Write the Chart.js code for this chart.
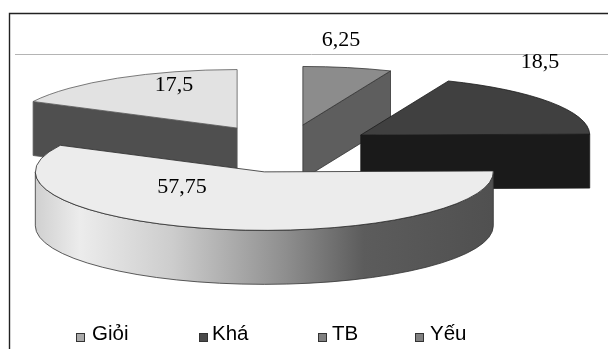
<!DOCTYPE html>
<html>
<head>
<meta charset="utf-8">
<style>html,body{margin:0;padding:0;background:#fff;overflow:hidden}canvas{display:block}</style>
<script src="https://cdn.jsdelivr.net/npm/chart.js@4"></script>
</head>
<body>
<canvas id="pie" width="608" height="349"></canvas>
<script>
// Student grade shares
const categories = ['Giỏi', 'Khá', 'TB', 'Yếu'];
const values = [6.25, 18.5, 57.75, 17.5];

// Slice styling, in category order
const topColors = ['#8c8c8c', '#404040', '#ececec', '#e2e2e2'];
const wallColors = ['#5e5e5e', '#1a1a1a', '#5e5e5e', '#4f4f4f'];
const edgeColors = ['#333333', '#1c1c1c', '#2a2a2a', '#5a5a5a'];
const swatchColors = ['#aaaaaa', '#4a4a4a', '#808080', '#808080'];

// Back-to-front painting order of the slices
const paintOrder = [3, 0, 1, 2];

// Projection of the tilted pie
const tilt = { cx: 285, cy: 148.5, rx: 229, ry: 58.5, depth: 54, explodeX: 0.4, explodeY: 0.41 };

// Value label anchors (centre x, baseline y) and legend slots
const labelAnchors = [[341, 46], [540, 68], [182, 193], [174, 91]];
const legendSlots = [[76, 92], [199, 212], [318, 332], [415, 430]];

const tiltedPie = {
  id: 'tiltedPie',
  beforeDraw(chart) {
    const c = chart.ctx;
    c.save();
    c.fillStyle = '#fff';
    c.fillRect(0, 0, chart.width, chart.height);
    c.strokeStyle = '#b4b4b4';
    c.lineWidth = 1;
    c.beginPath();
    c.moveTo(15, 54.5);
    c.lineTo(chart.width, 54.5);
    c.stroke();
    c.strokeStyle = '#222';
    c.lineWidth = 1.4;
    c.beginPath();
    c.moveTo(9.5, chart.height);
    c.lineTo(9.5, 13.5);
    c.lineTo(chart.width, 13.5);
    c.stroke();
    c.restore();
  },
  beforeDatasetDraw(chart) {
    const c = chart.ctx;
    const arcs = chart.getDatasetMeta(0).data;
    const t = tilt;

    paintOrder.forEach(i => {
      const el = arcs[i];
      const { startAngle: a0, endAngle: a1, outerRadius: R, x: ex, y: ey } = el.getProps(['startAngle', 'endAngle', 'outerRadius', 'x', 'y'], true);
      const mid = (a0 + a1) / 2;
      const ax = t.cx + Math.cos(mid) * t.explodeX * t.rx;
      const ay = t.cy + Math.sin(mid) * t.explodeY * t.ry;
      const rim = a => [ax + Math.cos(a) * t.rx, ay + Math.sin(a) * t.ry];
      const edge = edgeColors[i];

      const sideFace = angle => {
        const [ex2, ey2] = rim(angle);
        c.beginPath();
        c.moveTo(ax, ay);
        c.lineTo(ex2, ey2);
        c.lineTo(ex2, ey2 + t.depth);
        c.lineTo(ax, ay + t.depth);
        c.closePath();
        c.fillStyle = wallColors[i];
        c.fill();
        c.strokeStyle = edge;
        c.lineWidth = 0.8;
        c.stroke();
      };

      // Radial cut faces that turn towards the viewer
      if (Math.cos(a0) < -1e-6) sideFace(a0);
      if (Math.cos(a1) > 1e-6) sideFace(a1);

      // Front rim of the slice, lit from the left
      const from = Math.max(a0, 0);
      const to = Math.min(a1, Math.PI);
      if (to > from) {
        const g = c.createLinearGradient(t.cx - t.rx - 22, 0, t.cx + t.rx - 22, 0);
        g.addColorStop(0, '#cfcfcf');
        g.addColorStop(0.1, '#ececec');
        g.addColorStop(0.3, '#cdcdcd');
        g.addColorStop(0.55, '#8e8e8e');
        g.addColorStop(0.72, '#5c5c5c');
        g.addColorStop(1, '#505050');
        c.beginPath();
        c.ellipse(ax, ay, t.rx, t.ry, 0, from, to);
        c.ellipse(ax, ay + t.depth, t.rx, t.ry, 0, to, from, true);
        c.closePath();
        c.fillStyle = g;
        c.fill();
        c.strokeStyle = '#333';
        c.lineWidth = 0.8;
        c.stroke();
      }

      // Top face, drawn by the arc element under the tilted projection
      c.save();
      c.translate(ax, ay);
      c.scale(t.rx / R, t.ry / R);
      c.translate(-ex, -ey);
      el.draw(c);
      c.restore();

      c.beginPath();
      c.moveTo(ax, ay);
      c.ellipse(ax, ay, t.rx, t.ry, 0, a0, a1);
      c.closePath();
      c.strokeStyle = edge;
      c.lineWidth = 0.8;
      c.stroke();
    });
    return false;
  },
  afterDraw(chart) {
    const c = chart.ctx;
    c.save();

    // Value labels
    c.font = '22px "Liberation Serif", serif';
    c.fillStyle = '#000';
    c.textAlign = 'center';
    c.textBaseline = 'alphabetic';
    values.forEach((v, i) => {
      c.fillText(String(v).replace('.', ','), labelAnchors[i][0], labelAnchors[i][1]);
    });

    // Legend row
    c.font = '20.5px "Liberation Sans", sans-serif';
    c.textAlign = 'left';
    chart.data.labels.forEach((name, i) => {
      const [bx, tx] = legendSlots[i];
      c.fillStyle = swatchColors[i];
      c.strokeStyle = '#333';
      c.lineWidth = 1;
      c.fillRect(bx + 0.5, 333.5, 8, 8);
      c.strokeRect(bx + 0.5, 333.5, 8, 8);
      c.fillStyle = '#000';
      c.fillText(name, tx, 340);
    });
    c.restore();
  }
};

new Chart(document.getElementById('pie'), {
  type: 'pie',
  data: {
    labels: categories,
    datasets: [{ data: values, backgroundColor: topColors, borderWidth: 0 }]
  },
  options: {
    responsive: false,
    animation: false,
    rotation: 0,
    plugins: { legend: { display: false }, tooltip: { enabled: false } }
  },
  plugins: [tiltedPie]
});
</script>
</body>
</html>
